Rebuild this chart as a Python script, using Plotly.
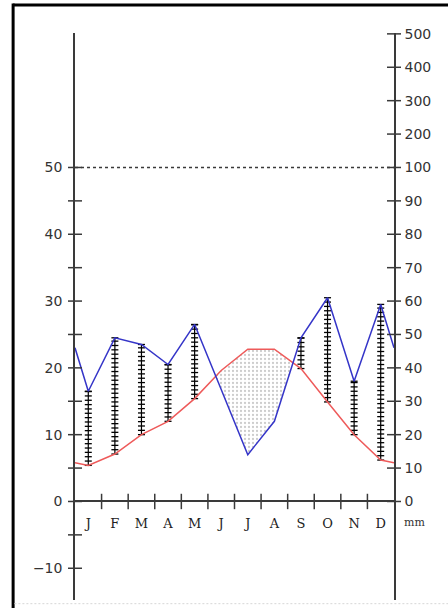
import numpy as np
import plotly.graph_objects as go

# Monthly climate normals
months = ["J", "F", "M", "A", "M", "J", "J", "A", "S", "O", "N", "D"]
temperature = [5.4, 7.1, 10.0, 12.0, 15.4, 19.6, 22.8, 22.8, 19.9, 14.9, 10.0, 6.2]   # °C
precipitation = [33, 49, 47, 41, 53, 33.5, 14, 24, 49, 61, 36, 59]                   # mm

temp_ticks = [-10, 0, 10, 20, 30, 40, 50]
temp_minor = [-10, -5, 0, 5, 10, 15, 20, 25, 30, 35, 40, 45, 50]
precip_ticks = [0, 10, 20, 30, 40, 50, 60, 70, 80, 90, 100, 200, 300, 400, 500]

AXIS = "#3a3a3a"
TEXT = "#333333"
Y_RANGE = [-14.75, 70.13]


def mm_to_y(mm):
    """Walter-Lieth scale: 20 mm = 10 °C up to 100 mm, compressed 1:10 above."""
    return mm / 2.0 if mm <= 100 else 50.0 + (mm - 100) / 20.0


centres = [i + 0.5 for i in range(12)]
wrap_t = (temperature[0] + temperature[-1]) / 2
wrap_p = (precipitation[0] + precipitation[-1]) / 2
xs = [0.0] + centres + [12.0]
t_line = [wrap_t] + temperature + [wrap_t]
p_line = [mm_to_y(v) for v in [wrap_p] + precipitation + [wrap_p]]

# Arid periods: polygons where the temperature curve lies above precipitation
polys, top, bot = [], [], []
for i in range(len(xs)):
    d = t_line[i] - p_line[i]
    if d > 0:
        top.append((xs[i], t_line[i]))
        bot.append((xs[i], p_line[i]))
    if i < len(xs) - 1:
        d2 = t_line[i + 1] - p_line[i + 1]
        if (d > 0) != (d2 > 0):
            f = d / (d - d2)
            xc = xs[i] + f * (xs[i + 1] - xs[i])
            yc = t_line[i] + f * (t_line[i + 1] - t_line[i])
            top.append((xc, yc))
            bot.append((xc, yc))
            if d > 0:
                polys.append(top + bot[::-1])
                top, bot = [], []
if top:
    polys.append(top + bot[::-1])

fig = go.Figure()

for poly in polys:
    fig.add_trace(go.Scatter(
        x=[p[0] for p in poly] + [poly[0][0]],
        y=[p[1] for p in poly] + [poly[0][1]],
        mode="lines", fill="toself", line=dict(width=0),
        fillcolor="rgba(0,0,0,0)",
        fillpattern=dict(shape=".", fgcolor="#9a9a9a", bgcolor="white", size=4, solidity=0.25),
        hoverinfo="skip", showlegend=False,
    ))

# Humid months: hatched vertical bars from temperature up to precipitation
hx, hy = [], []
for c, t, p in zip(centres, temperature, precipitation):
    py = mm_to_y(p)
    if py > t:
        ys = list(np.arange(t, py, 0.65)) + [py]
        hx += [c] * len(ys) + [None]
        hy += ys + [None]
fig.add_trace(go.Scatter(
    x=hx, y=hy, mode="lines+markers",
    line=dict(color="black", width=1.2),
    marker=dict(symbol="line-ew", size=5, line=dict(color="black", width=1.3)),
    hoverinfo="skip", showlegend=False, cliponaxis=False,
))

# Temperature and precipitation curves
fig.add_trace(go.Scatter(x=xs, y=t_line, mode="lines",
                         line=dict(color="#ee5a5a", width=1.5), showlegend=False))
fig.add_trace(go.Scatter(x=xs, y=p_line, mode="lines",
                         line=dict(color="#3535c8", width=1.5), showlegend=False))

# 50 °C / 100 mm dotted reference
fig.add_trace(go.Scatter(x=[0, 12], y=[50, 50], mode="lines",
                         line=dict(color=AXIS, width=1.4, dash="3px,3px"), showlegend=False))

# Cross ticks on the three axes
fig.add_trace(go.Scatter(
    x=[0] * len(temp_minor), y=temp_minor, mode="markers", cliponaxis=False,
    marker=dict(symbol="line-ew", size=10, line=dict(color=AXIS, width=1.5)),
    hoverinfo="skip", showlegend=False))
fig.add_trace(go.Scatter(
    x=[12] * len(precip_ticks), y=[mm_to_y(v) for v in precip_ticks], mode="markers",
    cliponaxis=False, yaxis="y2",
    marker=dict(symbol="line-ew", size=10, line=dict(color=AXIS, width=1.5)),
    hoverinfo="skip", showlegend=False))
fig.add_trace(go.Scatter(
    x=list(range(1, 12)), y=[0] * 11, mode="markers", cliponaxis=False,
    marker=dict(symbol="line-ns", size=11, line=dict(color=AXIS, width=1.5)),
    hoverinfo="skip", showlegend=False))

num_font = dict(family="DejaVu Sans", size=14, color=TEXT)

fig.update_layout(
    width=448, height=608,
    margin=dict(l=75, r=54, t=33, b=8),
    paper_bgcolor="white", plot_bgcolor="white",
    showlegend=False,
    xaxis=dict(
        range=[0, 12], anchor="free", position=(0 - Y_RANGE[0]) / (Y_RANGE[1] - Y_RANGE[0]),
        showline=True, linecolor=AXIS, linewidth=1.5,
        tickvals=centres, ticktext=months, ticks="",
        tickfont=dict(family="DejaVu Serif", size=13, color="#222222"),
        ticklabelstandoff=10,
        showgrid=False, zeroline=False, fixedrange=True,
    ),
    yaxis=dict(
        range=Y_RANGE, showline=True, linecolor=AXIS, linewidth=1.5,
        tickvals=temp_ticks, ticktext=[str(v).replace("-", "\u2212") for v in temp_ticks],
        ticks="", tickfont=num_font, ticklabelstandoff=8,
        showgrid=False, zeroline=False, fixedrange=True,
    ),
    yaxis2=dict(
        range=Y_RANGE, overlaying="y", side="right", anchor="x",
        showline=True, linecolor=AXIS, linewidth=1.5,
        tickvals=[mm_to_y(v) for v in precip_ticks], ticktext=[str(v) for v in precip_ticks],
        ticks="", tickfont=num_font, ticklabelstandoff=6,
        showgrid=False, zeroline=False, fixedrange=True,
    ),
    annotations=[dict(
        x=12, y=-3.2, xref="x", yref="y", text="mm", showarrow=False,
        xanchor="left", xshift=8, font=dict(family="DejaVu Serif", size=11, color=TEXT),
    )],
    shapes=[
        dict(type="line", xref="paper", yref="paper", x0=-0.194, x1=1.2, y0=1.0494, y1=1.0494,
             line=dict(color="black", width=3)),
        dict(type="line", xref="paper", yref="paper", x0=-0.194, x1=-0.194, y0=1.052, y1=-0.02,
             line=dict(color="black", width=3)),
        dict(type="line", xref="paper", yref="paper", x0=-0.19, x1=1.2, y0=-0.0065, y1=-0.0065,
             line=dict(color="#d6d6d6", width=1, dash="2px,2px")),
    ],
)

fig.write_html("out.html")
